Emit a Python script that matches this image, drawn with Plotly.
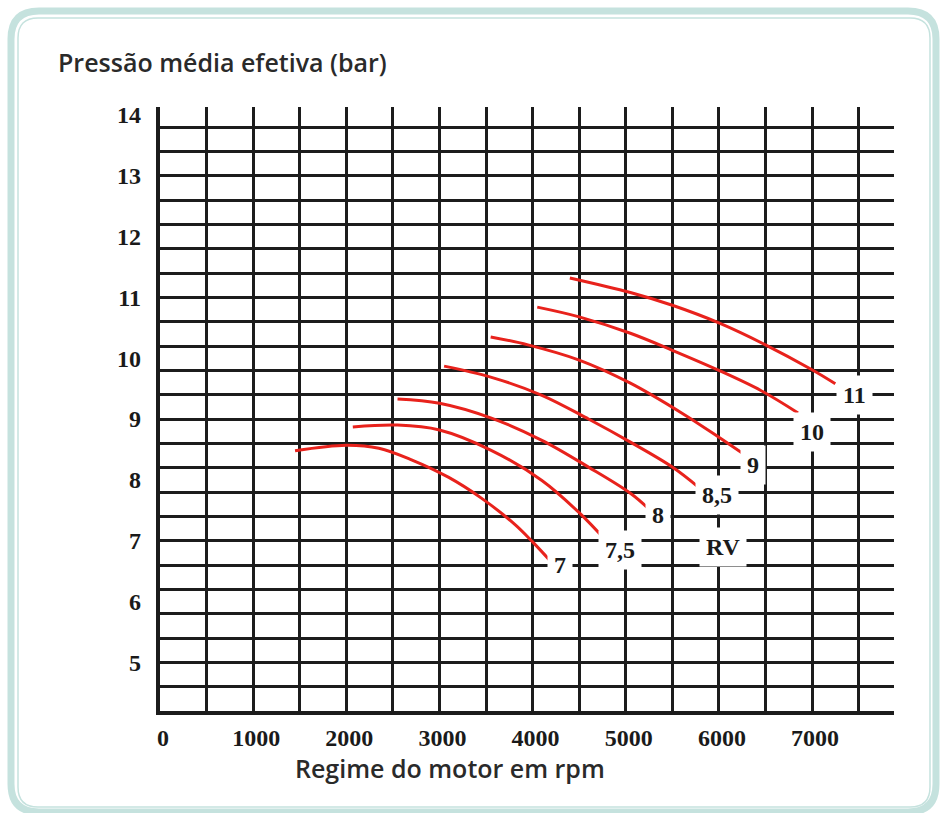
import plotly.graph_objects as go

# ---------------- data ----------------
rpm_7 = [1450, 2000, 2350, 2700, 3100, 3450, 3800, 4000, 4200]
pme_7 = [8.48, 8.57, 8.52, 8.33, 8.04, 7.70, 7.28, 6.98, 6.65]

rpm_75 = [2070, 2550, 3000, 3550, 4100, 4500, 4800]
pme_75 = [8.87, 8.90, 8.82, 8.49, 7.99, 7.46, 6.98]

rpm_8 = [2550, 3000, 3550, 4100, 4600, 5050, 5250]
pme_8 = [9.33, 9.26, 9.02, 8.65, 8.21, 7.78, 7.52]

rpm_85 = [3050, 3550, 4100, 4600, 5050, 5500, 5780]
pme_85 = [9.87, 9.69, 9.39, 9.00, 8.62, 8.21, 7.88]

rpm_9 = [3550, 3950, 4500, 5050, 5600, 6000, 6250]
pme_9 = [10.35, 10.22, 9.97, 9.59, 9.10, 8.70, 8.44]

rpm_10 = [4050, 4500, 5050, 5500, 6000, 6450, 6850]
pme_10 = [10.84, 10.68, 10.41, 10.13, 9.80, 9.47, 9.10]

rpm_11 = [4400, 5050, 5500, 6000, 6500, 7000, 7250]
pme_11 = [11.32, 11.08, 10.87, 10.58, 10.22, 9.81, 9.58]

curve_labels = ["7", "7,5", "8", "8,5", "9", "10", "11", "RV"]
label_rpm = [4295, 4940, 5350, 5980, 6370, 7000, 7460, 6045]
label_pme = [6.60, 6.85, 7.42, 7.75, 8.24, 8.79, 9.39, 6.89]

x_tick_vals = [0, 500, 1000, 1500, 2000, 2500, 3000, 3500, 4000, 4500,
               5000, 5500, 6000, 6500, 7000, 7500]
x_tick_text = ["0", "", "1000", "", "2000", "", "3000", "", "4000", "",
               "5000", "", "6000", "", "7000", ""]
y_grid_vals = [4.6, 5.0, 5.4, 5.8, 6.2, 6.6, 7.0, 7.4, 7.8, 8.2, 8.6, 9.0,
               9.4, 9.8, 10.2, 10.6, 11.0, 11.4, 11.8, 12.2, 12.6, 13.0,
               13.4, 13.8]
y_label_vals = [5, 6, 7, 8, 9, 10, 11, 12, 13, 14]

title_y = "Pressão média efetiva (bar)"
title_x = "Regime do motor em rpm"

# ---------------- layout geometry ----------------
W, H = 940, 813
ML, MR, MT, MB = 160, 46, 107, 102
PW, PH = W - ML - MR, H - MT - MB
X_RANGE = [0, 7880]
Y_RANGE = [4.2, 14.13]

GRID = "#1c1c1c"
RED = "#e8221c"
SERIF = dict(family="Liberation Serif", size=24, color="#1a1a1a", weight="bold")
SANS = dict(family="Open Sans", size=25, color="#2a2a2a", weight=600)


def px2paper(px, py):
    return (px - ML) / PW, (H - MB - py) / PH


def rounded_rect(x0, y0, x1, y1, r):
    def p(x, y):
        a, b = px2paper(x, y)
        return f"{a:.5f},{b:.5f}"
    return (f"M{p(x0 + r, y0)} L{p(x1 - r, y0)} Q{p(x1, y0)} {p(x1, y0 + r)} "
            f"L{p(x1, y1 - r)} Q{p(x1, y1)} {p(x1 - r, y1)} "
            f"L{p(x0 + r, y1)} Q{p(x0, y1)} {p(x0, y1 - r)} "
            f"L{p(x0, y0 + r)} Q{p(x0, y0)} {p(x0 + r, y0)} Z")


fig = go.Figure()

series = [(rpm_7, pme_7), (rpm_75, pme_75), (rpm_8, pme_8), (rpm_85, pme_85),
          (rpm_9, pme_9), (rpm_10, pme_10), (rpm_11, pme_11)]
for xs, ys in series:
    fig.add_trace(go.Scatter(x=xs, y=ys, mode="lines",
                             line=dict(color=RED, width=3, shape="spline", smoothing=1.0),
                             hoverinfo="skip", showlegend=False))

# invisible trace so the overlay label axis is rendered
fig.add_trace(go.Scatter(x=[X_RANGE[0]], y=[Y_RANGE[0]], yaxis="y2", mode="markers",
                         marker=dict(opacity=0), hoverinfo="skip", showlegend=False))

annotations = []
for t, xv, yv in zip(curve_labels, label_rpm, label_pme):
    annotations.append(dict(x=xv, y=yv, xref="x", yref="y", text=t, showarrow=False,
                            font=SERIF, bgcolor="white", borderpad=6))

ax, ay = px2paper(56, 62)
annotations.append(dict(x=ax, y=ay, xref="paper", yref="paper", text=title_y,
                        showarrow=False, xanchor="left", yanchor="middle", font=SANS))
bx, by = px2paper(450, 768)
annotations.append(dict(x=bx, y=by, xref="paper", yref="paper", text=title_x,
                        showarrow=False, xanchor="center", yanchor="middle", font=SANS))

shapes = [
    dict(type="path", xref="paper", yref="paper", layer="below",
         path=rounded_rect(11, 11, 936, 812, 28),
         line=dict(color="#c5e2de", width=7)),
    dict(type="path", xref="paper", yref="paper", layer="below",
         path=rounded_rect(18, 18, 930, 807, 20),
         line=dict(color="#c5e2de", width=1.5)),
]

fig.update_layout(
    width=W, height=H,
    margin=dict(l=ML, r=MR, t=MT, b=MB),
    paper_bgcolor="white", plot_bgcolor="white",
    showlegend=False,
    annotations=annotations,
    shapes=shapes,
    xaxis=dict(range=X_RANGE, tickmode="array", tickvals=x_tick_vals, ticktext=x_tick_text,
               showgrid=True, gridcolor=GRID, gridwidth=3, zeroline=False,
               showline=True, linecolor=GRID, linewidth=4, ticks="",
               tickfont=SERIF, ticklabelstandoff=2, ticklabelshift=3, fixedrange=True),
    yaxis=dict(range=Y_RANGE, tickmode="array", tickvals=y_grid_vals,
               ticktext=[""] * len(y_grid_vals),
               showgrid=True, gridcolor=GRID, gridwidth=3, zeroline=False,
               showline=True, linecolor=GRID, linewidth=4, ticks="", fixedrange=True),
    yaxis2=dict(range=Y_RANGE, overlaying="y", side="left", tickmode="array",
                tickvals=y_label_vals, ticktext=[str(v) for v in y_label_vals],
                showgrid=False, zeroline=False, showline=False, ticks="",
                tickfont=SERIF, ticklabelstandoff=18, fixedrange=True),
)

fig.write_html("out.html",
               config={"displayModeBar": False},
               post_script="document.body.style.margin='0px';document.body.style.overflow='hidden';")
